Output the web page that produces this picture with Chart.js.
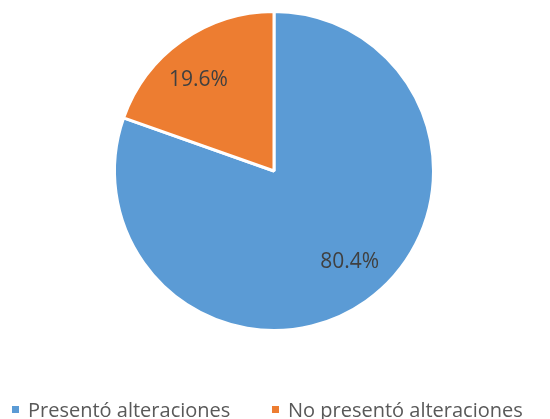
<!DOCTYPE html>
<html>
<head>
<meta charset="utf-8">
<script src="https://cdn.jsdelivr.net/npm/chart.js@4/dist/chart.umd.min.js"></script>
<style>
  html, body { margin: 0; padding: 0; background: #fff; }
  #wrap { width: 550px; height: 419px; }
</style>
</head>
<body>
<div id="wrap"><canvas id="pieChart"></canvas></div>
<script>
const categories = ["Presentó alteraciones", "No presentó alteraciones"];
const percentages = [80.4, 19.6];
const sliceColors = ["#5B9BD5", "#ED7D31"];

// draws the % labels inside slices and the legend under the pie
const labelsAndLegend = {
    id: "labelsAndLegend",
    afterDraw(chart) {
        const ctx = chart.ctx;
        const meta = chart.getDatasetMeta(0);
        ctx.save();
        ctx.fillStyle = "#404040";
        ctx.font = "21px 'Open Sans'";
        ctx.textAlign = "center";
        ctx.textBaseline = "middle";
        meta.data.forEach((arc, i) => {
            const mid = (arc.startAngle + arc.endAngle) / 2 - 0.08;
            const r = arc.outerRadius * 0.74;
            ctx.fillText(percentages[i].toFixed(1) + "%", arc.x + Math.cos(mid) * r, arc.y + Math.sin(mid) * r);
        });

        // legend
        ctx.font = "20px 'Open Sans'";
        ctx.textAlign = "left";
        const legendX = [12, 272];
        categories.forEach((c, i) => {
            ctx.fillStyle = sliceColors[i];
            ctx.fillRect(legendX[i], 406, 7, 7);
            ctx.fillStyle = "#595959";
            ctx.fillText(c, legendX[i] + 16, 411);
        });
        ctx.restore();
    }
};

new Chart(document.getElementById("pieChart"), {
    type: "pie",
    data: {
        labels: categories,
        datasets: [{
            data: percentages,
            backgroundColor: sliceColors,
            borderColor: "#ffffff",
            borderWidth: 3
        }]
    },
    options: {
        responsive: true,
        maintainAspectRatio: false,
        animation: false,
        layout: { padding: { top: 10, bottom: 87, left: 113, right: 115 } },
        plugins: {
            legend: { display: false },
            tooltip: { enabled: false }
        }
    },
    plugins: [labelsAndLegend]
});
</script>
</body>
</html>
